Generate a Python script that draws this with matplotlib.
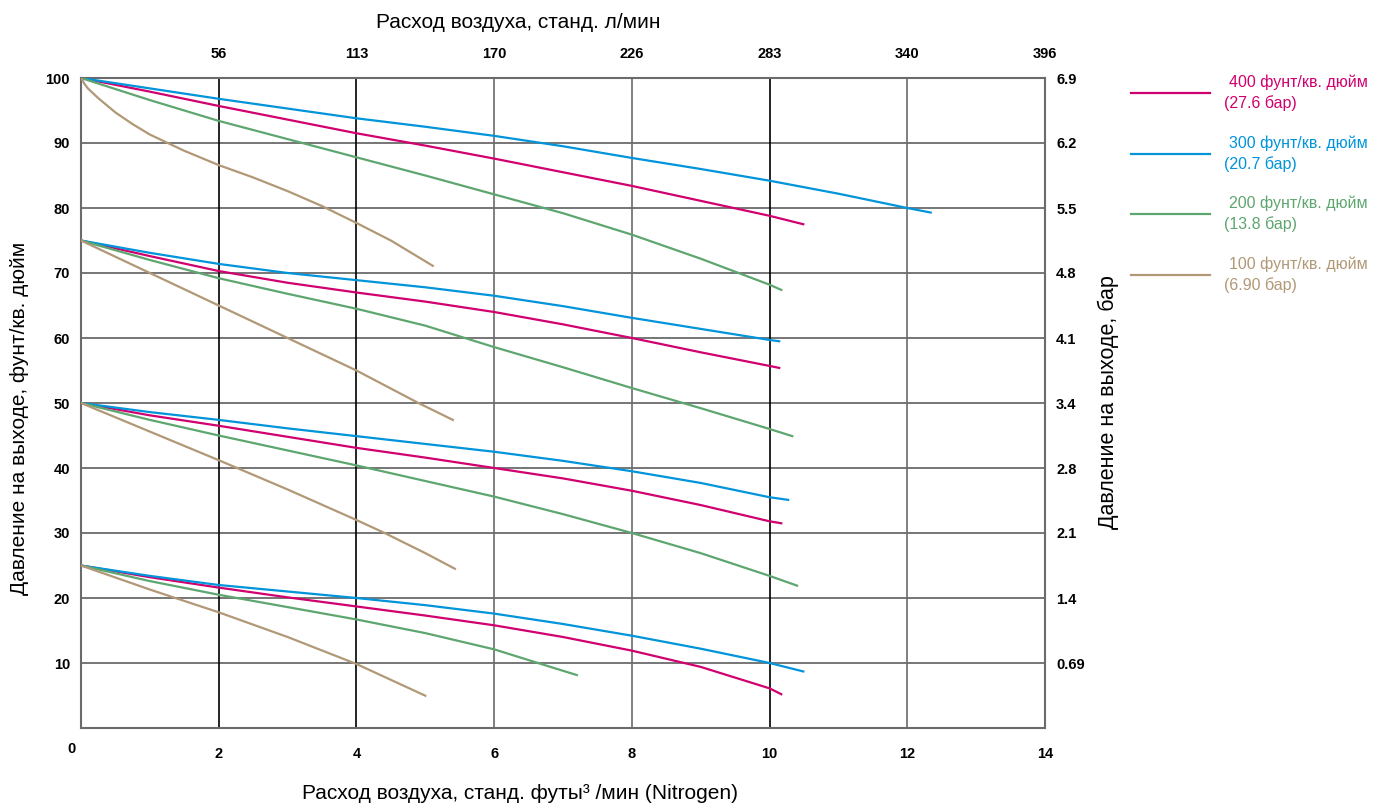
# Расход воздуха vs давление на выходе (Nitrogen)
import matplotlib
matplotlib.use('Agg')
import matplotlib.pyplot as plt
from matplotlib.lines import Line2D

plt.rcParams['font.family'] = ['Liberation Sans', 'DejaVu Sans']

# --- data ---
# upper row of curves (start at 100 psig)
x_400_100 = [0, 1, 2, 3, 4, 5, 6, 7, 8, 9, 10, 10.49]
y_400_100 = [100, 97.9, 95.7, 93.6, 91.5, 89.6, 87.6, 85.5, 83.4, 81.1, 78.8, 77.5]
x_300_100 = [0, 1, 2, 3, 4, 5, 6, 7, 8, 9, 10, 11, 12, 12.34]
y_300_100 = [100, 98.4, 96.8, 95.3, 93.8, 92.5, 91.1, 89.5, 87.7, 86.0, 84.2, 82.2, 80.0, 79.3]
x_200_100 = [0, 1, 2, 3, 4, 5, 6, 7, 8, 9, 10, 10.17]
y_200_100 = [100, 96.6, 93.4, 90.6, 87.8, 85.0, 82.1, 79.2, 75.9, 72.2, 68.2, 67.4]
x_100_100 = [0, 0.05, 0.1, 0.25, 0.5, 0.75, 1, 1.5, 2, 2.5, 3, 3.5, 4, 4.5, 5.11]
y_100_100 = [100, 99.1, 98.4, 96.9, 94.7, 92.9, 91.3, 88.8, 86.6, 84.7, 82.6, 80.3, 77.7, 75.0, 71.1]

# start at 75
x_400_75 = [0, 1, 2, 3, 4, 5, 6, 7, 8, 9, 10, 10.14]
y_400_75 = [75, 72.6, 70.3, 68.5, 67.0, 65.6, 64.0, 62.1, 60.0, 57.8, 55.7, 55.4]
x_300_75 = [0, 1, 2, 3, 4, 5, 6, 7, 8, 9, 10, 10.14]
y_300_75 = [75, 73.1, 71.4, 70.0, 68.9, 67.8, 66.5, 64.9, 63.1, 61.4, 59.7, 59.5]
x_200_75 = [0, 1, 2, 3, 4, 5, 6, 7, 8, 9, 10, 10.33]
y_200_75 = [75, 72.0, 69.2, 66.8, 64.5, 61.9, 58.6, 55.5, 52.3, 49.2, 46.0, 44.9]
x_100_75 = [0, 1, 2, 3, 4, 4.9, 5.4]
y_100_75 = [75, 70.0, 65.0, 60.0, 55.0, 50.0, 47.4]

# start at 50
x_400_50 = [0, 1, 2, 3, 4, 5, 6, 7, 8, 9, 10, 10.17]
y_400_50 = [50, 48.1, 46.5, 44.8, 43.1, 41.6, 40.0, 38.4, 36.5, 34.3, 31.8, 31.5]
x_300_50 = [0, 1, 2, 3, 4, 5, 6, 7, 8, 9, 10, 10.27]
y_300_50 = [50, 48.6, 47.4, 46.1, 44.9, 43.7, 42.5, 41.1, 39.5, 37.7, 35.5, 35.1]
x_200_50 = [0, 1, 2, 3, 4, 5, 6, 7, 8, 9, 10, 10.4]
y_200_50 = [50, 47.4, 45.0, 42.7, 40.4, 38.0, 35.6, 32.9, 30.0, 26.9, 23.4, 21.9]
x_100_50 = [0, 1, 2, 3, 4, 4.41, 5, 5.43]
y_100_50 = [50, 45.6, 41.2, 36.7, 32.0, 30.0, 26.9, 24.5]

# start at 25
x_400_25 = [0, 1, 2, 3, 4, 5, 6, 7, 8, 9, 10, 10.17]
y_400_25 = [25, 23.2, 21.6, 20.1, 18.7, 17.3, 15.8, 14.0, 11.9, 9.4, 6.1, 5.2]
x_300_25 = [0, 1, 2, 3, 4, 5, 6, 7, 8, 9, 10, 10.49]
y_300_25 = [25, 23.4, 22.0, 21.0, 20.0, 18.9, 17.6, 16.0, 14.2, 12.2, 10.0, 8.7]
x_200_25 = [0, 1, 2, 3, 4, 5, 6, 7, 7.2]
y_200_25 = [25, 22.6, 20.5, 18.6, 16.7, 14.6, 12.1, 8.8, 8.15]
x_100_25 = [0, 1, 1.37, 2, 3, 4, 5]
y_100_25 = [25, 21.3, 20.0, 17.8, 14.0, 9.85, 4.97]

x_ticks = [2, 4, 6, 8, 10, 12, 14]
top_labels = ['56', '113', '170', '226', '283', '340', '396']
y_ticks = [10, 20, 30, 40, 50, 60, 70, 80, 90, 100]
bar_labels = ['0.69', '1.4', '2.1', '2.8', '3.4', '4.1', '4.8', '5.5', '6.2', '6.9']
legend_top = ['400 фунт/кв. дюйм', '300 фунт/кв. дюйм', '200 фунт/кв. дюйм', '100 фунт/кв. дюйм']
legend_bot = ['(27.6 бар)', '(20.7 бар)', '(13.8 бар)', '(6.90 бар)']

c400 = '#D1006F'
c300 = '#0094DA'
c200 = '#5EA66F'
c100 = '#B19877'
grid_gray = '#6b6b6b'

fig = plt.figure(figsize=(13.87, 8.05), dpi=100)
ax = fig.add_axes([81/1387, 1-728/805, 964/1387, 650/805])
ax.set_xlim(0, 14)
ax.set_ylim(0, 100)

# grid
for yv in y_ticks:
    ax.axhline(yv, color=grid_gray, lw=1.3, zorder=1)
for xv in x_ticks[:-1]:
    col = 'black' if xv in (2, 4, 10) else grid_gray
    ax.axvline(xv, color=col, lw=1.2, zorder=1)

lw = 1.6
ax.plot(x_400_100, y_400_100, color=c400, lw=lw, zorder=3)
ax.plot(x_300_100, y_300_100, color=c300, lw=lw, zorder=3)
ax.plot(x_200_100, y_200_100, color=c200, lw=lw, zorder=3)
ax.plot(x_100_100, y_100_100, color=c100, lw=lw, zorder=3)
ax.plot(x_400_75, y_400_75, color=c400, lw=lw, zorder=3)
ax.plot(x_300_75, y_300_75, color=c300, lw=lw, zorder=3)
ax.plot(x_200_75, y_200_75, color=c200, lw=lw, zorder=3)
ax.plot(x_100_75, y_100_75, color=c100, lw=lw, zorder=3)
ax.plot(x_400_50, y_400_50, color=c400, lw=lw, zorder=3)
ax.plot(x_300_50, y_300_50, color=c300, lw=lw, zorder=3)
ax.plot(x_200_50, y_200_50, color=c200, lw=lw, zorder=3)
ax.plot(x_100_50, y_100_50, color=c100, lw=lw, zorder=3)
ax.plot(x_400_25, y_400_25, color=c400, lw=lw, zorder=3)
ax.plot(x_300_25, y_300_25, color=c300, lw=lw, zorder=3)
ax.plot(x_200_25, y_200_25, color=c200, lw=lw, zorder=3)
ax.plot(x_100_25, y_100_25, color=c100, lw=lw, zorder=3)

for s in ax.spines.values():
    s.set_color(grid_gray)
    s.set_linewidth(1.5)

tick_font = dict(fontsize=10.5, fontweight='bold')
ax.set_xticks(x_ticks)
ax.set_xticklabels([str(v) for v in x_ticks], **tick_font)
ax.set_yticks(y_ticks)
ax.set_yticklabels([str(v) for v in y_ticks], **tick_font)
ax.tick_params(axis='x', length=0, pad=14)
ax.tick_params(axis='y', length=0, pad=8)
fig.text(72/1387, 1-749/805, '0', ha='center', va='center', **tick_font)

axt = ax.twiny()
axt.set_xlim(0, 14)
axt.set_xticks(x_ticks)
axt.set_xticklabels(top_labels, **tick_font)
axt.tick_params(axis='x', length=0, pad=12)

axr = ax.twinx()
axr.set_ylim(0, 100)
axr.set_yticks(y_ticks)
axr.set_yticklabels(bar_labels, **tick_font)
axr.tick_params(axis='y', length=0, pad=8)
for a in (axt, axr):
    for s in a.spines.values():
        s.set_visible(False)

# axis titles
fig.text(518/1387, 1-22/805, 'Расход воздуха, станд. л/мин', ha='center', va='center', fontsize=15)
fig.text(520/1387, 1-793/805, 'Расход воздуха, станд. футы³ /мин (Nitrogen)', ha='center', va='center', fontsize=15)
fig.text(20/1387, 1-418/805, 'Давление на выходе, фунт/кв. дюйм', ha='center', va='center', rotation=90, fontsize=15)
fig.text(1108/1387, 1-402/805, 'Давление на выходе, бар', ha='center', va='center', rotation=90, fontsize=15.5)

# legend drawn by hand
leg_cols = [c400, c300, c200, c100]
line_y = [92.7, 153.7, 214, 275]
for i in range(4):
    fy = 1 - line_y[i]/805
    fig.add_artist(Line2D([1131/1387, 1210/1387], [fy, fy], color=leg_cols[i], lw=1.6))
    fig.text(1229/1387, 1-(line_y[i]-10.5)/805, legend_top[i], color=leg_cols[i],
             ha='left', va='center', fontsize=11.5)
    fig.text(1224/1387, 1-(line_y[i]+10.5)/805, legend_bot[i], color=leg_cols[i],
             ha='left', va='center', fontsize=11.5)

plt.savefig('out.png', dpi=100)
